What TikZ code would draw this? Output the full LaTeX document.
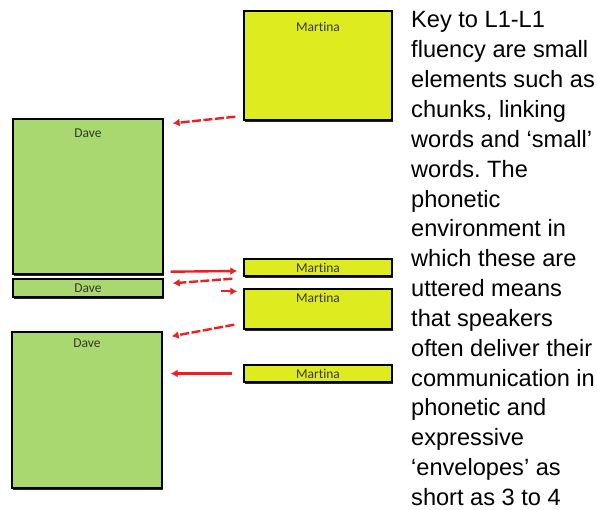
\documentclass[tikz,border=0pt]{standalone}
\usepackage{fontspec}
\setmainfont{Liberation Sans}
\newfontfamily\boxfont[Ligatures=CommonOff]{Carlito}
\usetikzlibrary{positioning,calc,arrows.meta,shadows}
\definecolor{davegreen}{RGB}{169,215,112}
\definecolor{martinayellow}{RGB}{222,236,31}
\definecolor{boxtext}{RGB}{55,55,45}
\definecolor{arrowred}{RGB}{240,30,30}
\frenchspacing
\begin{document}
\begin{tikzpicture}
        [x=1pt,y=-1pt,
        turn/.style={rectangle,draw=black,line width=1.4pt,inner sep=0pt,
            drop shadow={shadow xshift=1.2pt,shadow yshift=-2pt,fill=black!85,opacity=1}},
        dave/.style={turn,fill=davegreen,minimum width=150pt},
        martina/.style={turn,fill=martinayellow,minimum width=148pt},
        who/.style={inner sep=0pt,font=\boxfont\fontsize{13.5}{14}\selectfont,text=boxtext},
        cue/.style={draw=arrowred,line width=2.4pt,-{Latex[length=7pt,width=8pt]}},
        overlap/.style={cue,dash pattern=on 9pt off 2.5pt},
        ]
        \useasboundingbox (0,0) rectangle (597,510);
        % speaker turns
        \node[martina,minimum height=109pt] (m1) at (318,65.5) {};
        \node[dave,minimum height=155pt] (d1) at (88,196.5) {};
        \node[martina,minimum height=17pt] (m2) at (318,267.5) {};
        \node[dave,minimum height=18pt] (d2) at (88,288) {};
        \node[martina,minimum height=40pt] (m3) at (318,309) {};
        \node[dave,minimum height=156pt] (d3) at (87,410) {};
        \node[martina,minimum height=17pt] (m4) at (318,373.5) {};
        % names
        \node[who,below=12pt of m1.north] (m1-name) {Martina};
        \node[who,below=10pt of d1.north] (d1-name) {Dave};
        \node[who] (m2-name) at (m2) {Martina};
        \node[who] (d2-name) at (d2) {Dave};
        \node[who,below=5pt of m3.north] (m3-name) {Martina};
        \node[who,below=7pt of d3.north] (d3-name) {Dave};
        \node[who] (m4-name) at (m4) {Martina};
        % hand-overs
        \draw[overlap] ($(m1.south west)+(-8,-4)$) -- ($(d1.north east)+(9,5)$);
        \draw[cue] ($(d1.south east)+(7,-3)$) -- ($(m2.west)+(-6,3.5)$);
        \draw[overlap] ($(m2.south west)+(-11,2)$) -- ($(d2.north east)+(9,5)$);
        \draw[cue] ($(m3.north west)+(-22,3)$) -- ($(m3.north west)+(-6,3)$);
        \draw[overlap] ($(m3.south west)+(-9,-5)$) -- ($(d3.north east)+(9,5)$);
        \draw[cue] ($(m4.west)+(-11,0)$) -- ($(d3.east |- m4.west)+(8,0)$);
        % caption
        \node[anchor=north west,align=left,inner sep=0pt,
            font=\fontsize{23.6}{29.85}\selectfont] (key) at (411,11.5)
            {Key to L1-L1\\fluency are small\\elements such as\\chunks, linking\\
            words and ‘small’\\words. The\\phonetic\\environment in\\
            which these are\\uttered means\\that speakers\\often deliver their\\
            communication in\\phonetic and\\expressive\\‘envelopes’ as\\short as 3 to 4};
    \end{tikzpicture}
\end{document}
